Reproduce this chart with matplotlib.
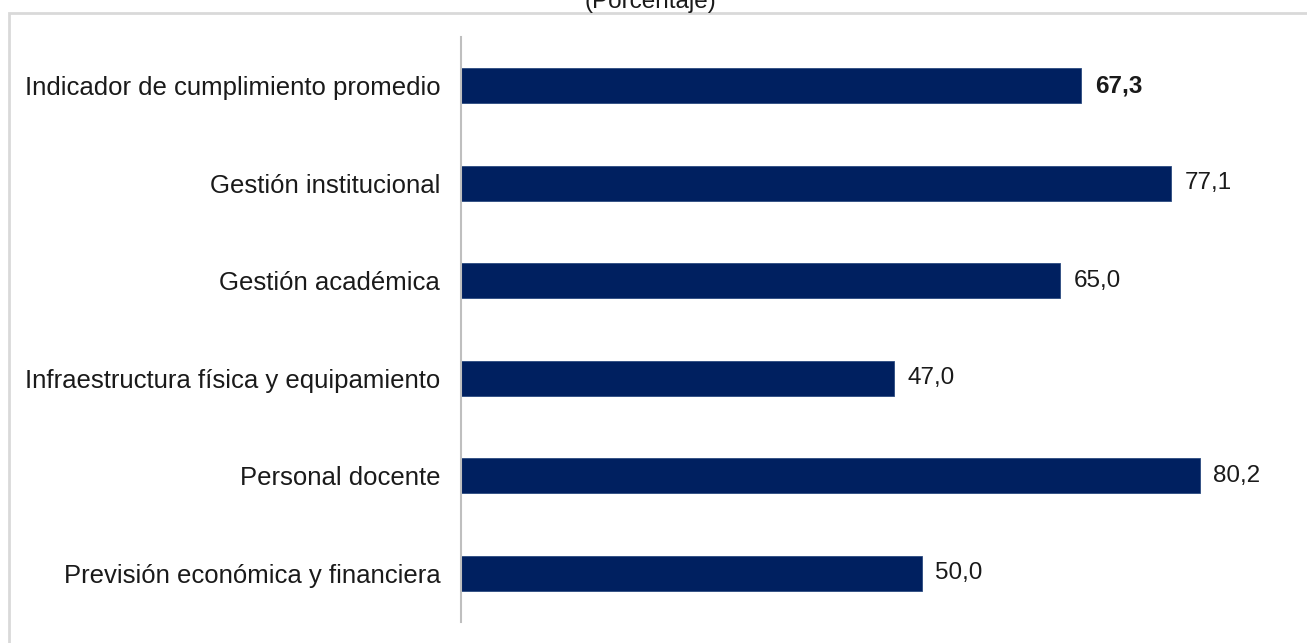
import matplotlib.pyplot as plt
from matplotlib.patches import Rectangle

plt.rcParams['font.family'] = ['Liberation Sans', 'DejaVu Sans']

# categories, top to bottom as shown
categories = [
    'Indicador de cumplimiento promedio',
    'Gestión institucional',
    'Gestión académica',
    'Infraestructura física y equipamiento',
    'Personal docente',
    'Previsión económica y financiera',
]
values = [67.3, 77.1, 65.0, 47.0, 80.2, 50.0]
value_labels = ['67,3', '77,1', '65,0', '47,0', '80,2', '50,0']

W, H = 1307, 643
fig = plt.figure(figsize=(W / 100, H / 100), dpi=100)

# outer frame (runs off the right and bottom edges)
fig.patches.append(Rectangle((9 / W, -0.05), 1.1, 1 - 13 / H + 0.05,
                             transform=fig.transFigure, fill=False,
                             edgecolor='#d9d9d9', linewidth=2))

ax = fig.add_axes([461 / W, 1 - 622 / H, (1290 - 461) / W, 585 / H])
y = list(range(len(categories)))
ax.barh(y, values, height=0.355, color='#002060', edgecolor='#2b4a80', linewidth=0.6)
ax.set_ylim(len(categories) - 0.5, -0.5)
ax.set_xlim(0, (1290 - 461) / 9.21)

for i, (v, lab) in enumerate(zip(values, value_labels)):
    ax.text(v + 1.5, i, lab, va='center', ha='left', fontsize=17.5, color='#1a1a1a',
            fontweight='bold' if i == 0 else 'normal')

ax.set_yticks(y)
ax.set_yticklabels(categories, fontsize=18.5, color='#1a1a1a')
ax.tick_params(axis='y', length=0, pad=15)
ax.set_xticks([])
for s in ['top', 'right', 'bottom']:
    ax.spines[s].set_visible(False)
ax.spines['left'].set_color('#bfbfbf')
ax.spines['left'].set_linewidth(1.5)

fig.text(650 / W, 1 - 8 / H, '(Porcentaje)', ha='center', va='baseline',
         fontsize=17.5, color='#1a1a1a')

fig.savefig('out.png', dpi=100)
